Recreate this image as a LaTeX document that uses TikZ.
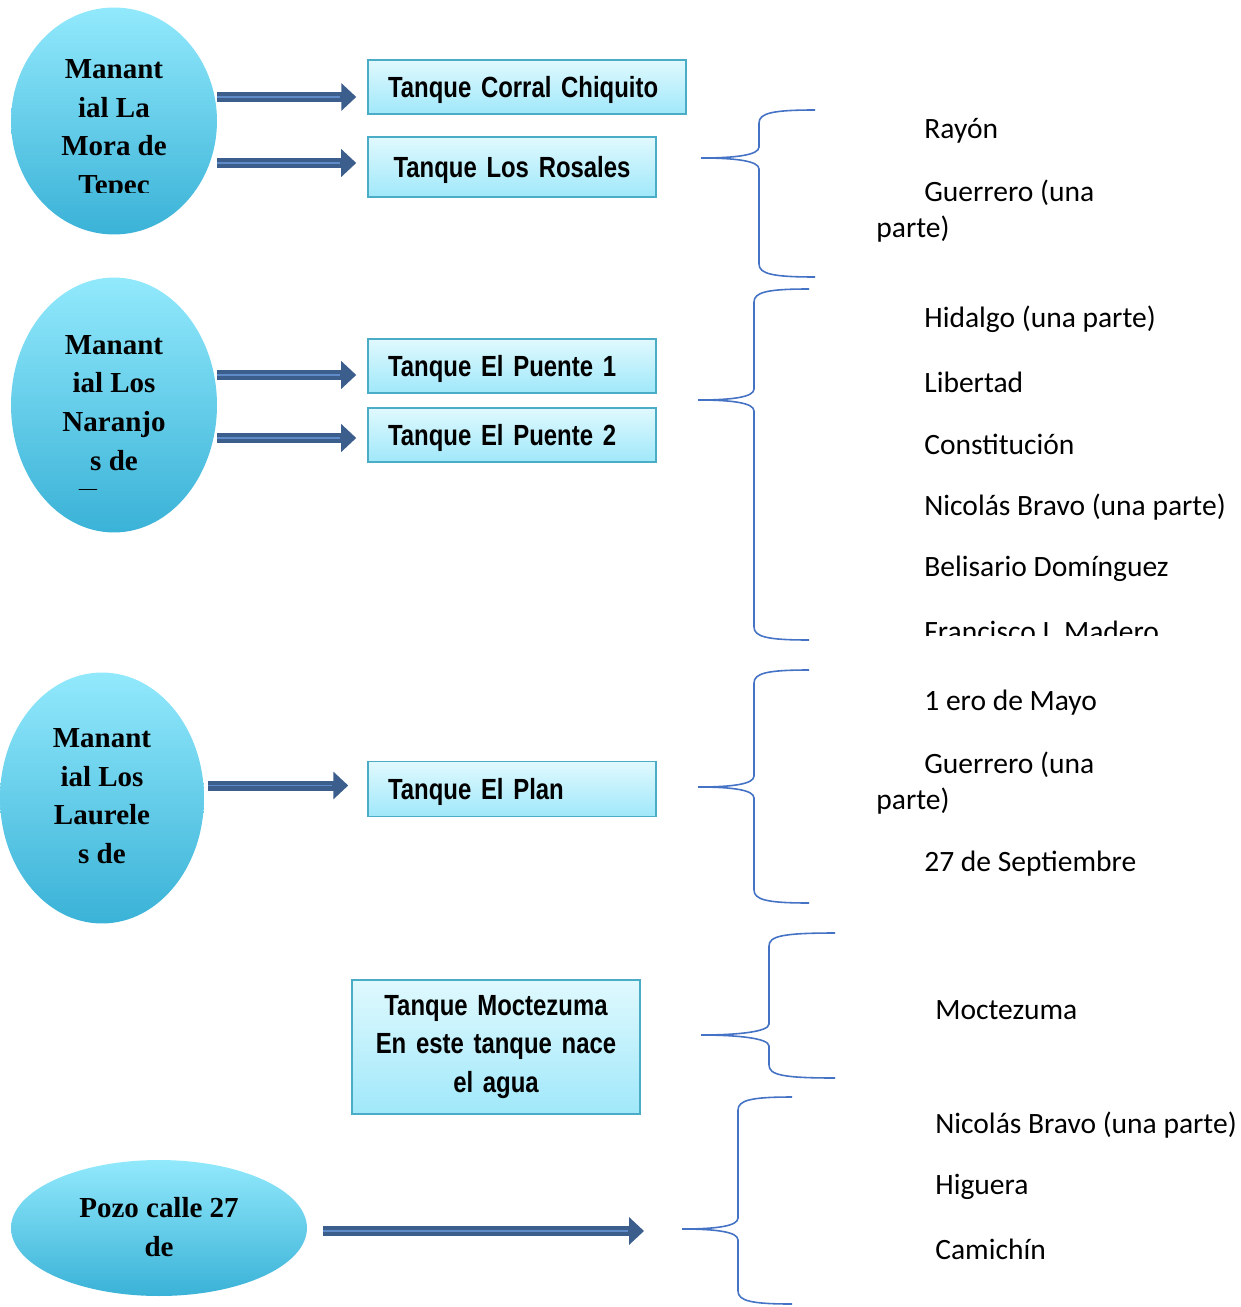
\documentclass[tikz,border=0pt]{standalone}
\usepackage{fontspec}
\usetikzlibrary{arrows.meta,shapes.geometric}
\newfontfamily\calib{Carlito}
\newfontfamily\narrow[FakeStretch=0.82,WordSpace=0.75]{Liberation Sans}
\newfontfamily\serifb{Liberation Serif}
\definecolor{springtop}{RGB}{146,233,252}
\definecolor{springbot}{RGB}{58,178,215}
\definecolor{tanktop}{RGB}{224,249,254}
\definecolor{tankbot}{RGB}{160,232,250}
\definecolor{tankline}{RGB}{75,172,198}
\definecolor{pipeblue}{RGB}{60,94,140}
\definecolor{pipelight}{RGB}{95,140,200}
\definecolor{bracecol}{RGB}{68,114,196}
\tikzset{
  spring/.style={ellipse, inner sep=0pt, top color=springtop, bottom color=springbot},
  springtext/.style={font=\serifb\bfseries\fontsize{16.5}{22}\selectfont, align=center, inner sep=0pt},
  tank/.style={rectangle, draw=tankline, line width=0.9pt, top color=tanktop, bottom color=tankbot,
    font=\narrow\bfseries\fontsize{16.6}{21.8}\selectfont, inner xsep=0.4cm, inner ysep=0pt},
  oneline/.style={text depth=0pt},
  colonia/.style={anchor=west, font=\calib\fontsize{16.8}{20.4}\selectfont, align=left, inner sep=0pt},
  brace/.style={draw=bracecol, line width=0.9pt},
  pipe/.style={draw=pipeblue, line width=0.2cm, -{Triangle[length=0.3cm,width=0.54cm]},
    postaction={draw=pipelight, line width=0.035cm, -, shorten >=0.32cm}}
}
\begin{document}
\begin{tikzpicture}[x=0.02cm, y=-0.02cm]
  \useasboundingbox (0,0) rectangle (1240,1307);
  % manantiales
  \node[spring, minimum width=4.12cm, minimum height=4.54cm] (lamora) at (114,121) {};
  \node[spring, minimum width=4.12cm, minimum height=5.1cm] (naranjos) at (114,405) {};
  \node[spring, minimum width=4.08cm, minimum height=5.02cm] (laureles) at (102,798) {};
  \node[spring, minimum width=5.92cm, minimum height=2.72cm] (pozo) at (159,1228) {};
  \begin{scope}
    \clip (0,0) rectangle (240,193);
    \node[springtext] (lamoratext) at (114,130) {Manant\\ial La\\Mora de\\Tepec};
  \end{scope}
  \begin{scope}
    \clip (0,300) rectangle (240,489);
    \node[springtext] (naranjostext) at (114,425) {Manant\\ial Los\\Naranjo\\s de\\Tepec};
  \end{scope}
  \node[springtext] (laurelestext) at (102,796) {Manant\\ial Los\\Laurele\\s de};
  \node[springtext] (pozotext) at (159,1227) {Pozo calle 27\\de};
  % tanques
  \node[tank, oneline, text width=5.56cm, minimum height=1.08cm, align=left] (corral) at (527,87) {Tanque Corral Chiquito};
  \node[tank, oneline, text width=4.96cm, minimum height=1.2cm, align=center] (rosales) at (512,167) {Tanque Los Rosales};
  \node[tank, oneline, text width=4.96cm, minimum height=1.08cm, align=left] (puente1) at (512,366) {Tanque El Puente 1};
  \node[tank, oneline, text width=4.96cm, minimum height=1.08cm, align=left] (puente2) at (512,435) {Tanque El Puente 2};
  \node[tank, oneline, text width=4.96cm, minimum height=1.1cm, align=left] (plan) at (512,789) {Tanque El Plan};
  \node[tank, text width=4.96cm, minimum height=2.68cm, align=center] (moctezuma) at (496,1047)
    {Tanque Moctezuma\\En este tanque nace\\el agua};
  % llaves
  \foreach \tx/\vx/\ex/\ty/\my/\by [count=\i] in {701/759/815/110/158/277, 698/754/809/289/400/640,
      698/754/809/670/787/903, 701/769/835/933/1035/1078, 682/738/792/1097/1229/1304} {
    \draw[brace] (\ex,\ty) .. controls ({\vx+14},\ty) and (\vx,{\ty+3}) .. (\vx,{\ty+13})
      -- (\vx,{\my-11}) .. controls (\vx,{\my-3}) and ({\tx+35},\my) .. (\tx,\my)
      .. controls ({\tx+35},\my) and (\vx,{\my+3}) .. (\vx,{\my+11})
      -- (\vx,{\by-13}) .. controls (\vx,{\by-3}) and ({\vx+14},\by) .. (\ex,\by);
    \coordinate (tip\i) at (\tx,\my);
  }
  % flechas
  \coordinate (a1) at ([xshift=-0.22cm,yshift=-0.2cm]corral.west);
  \coordinate (a2) at ([xshift=-0.22cm,yshift=0.08cm]rosales.west);
  \coordinate (a3) at ([xshift=-0.22cm,yshift=-0.18cm]puente1.west);
  \coordinate (a4) at ([xshift=-0.22cm,yshift=-0.06cm]puente2.west);
  \coordinate (a5) at ([xshift=-0.38cm,yshift=0.07cm]plan.west);
  \coordinate (a6) at ([xshift=-0.76cm,yshift=-0.04cm]tip5);
  \draw[pipe] (lamora.east |- a1) -- (a1);
  \draw[pipe] (lamora.east |- a2) -- (a2);
  \draw[pipe] (naranjos.east |- a3) -- (a3);
  \draw[pipe] (naranjos.east |- a4) -- (a4);
  \draw[pipe] ([xshift=0.08cm]laureles.east |- a5) -- (a5);
  \draw[pipe] ([xshift=0.32cm]pozo.east |- a6) -- (a6);
  % colonias
  \node[colonia] (rayon) at (924,131) {Rayón};
  \node[colonia] (guerrero1) at (876,211) {\hspace*{0.96cm}Guerrero (una\\parte)};
  \node[colonia] (hidalgo) at (924,319) {Hidalgo (una parte)};
  \node[colonia] (libertad) at (924,382) {Libertad};
  \node[colonia] (constitucion) at (924,444) {Constitución};
  \node[colonia] (bravo1) at (924,507) {Nicolás Bravo (una parte)};
  \node[colonia] (belisario) at (924,569) {Belisario Domínguez};
  \begin{scope}
    \clip (850,600) rectangle (1240,635);
    \node[colonia] (madero) at (924,631) {Francisco I. Madero};
  \end{scope}
  \node[colonia] (mayo) at (924,703) {1 ero de Mayo};
  \node[colonia] (guerrero2) at (876,783) {\hspace*{0.96cm}Guerrero (una\\parte)};
  \node[colonia] (septiembre) at (924,864) {27 de Septiembre};
  \node[colonia] (moctezumacol) at (935,1010) {Moctezuma};
  \node[colonia] (bravo2) at (935,1125) {Nicolás Bravo (una parte)};
  \node[colonia] (higuera) at (935,1187) {Higuera};
  \node[colonia] (camichin) at (935,1249) {Camichín};
\end{tikzpicture}
\end{document}
